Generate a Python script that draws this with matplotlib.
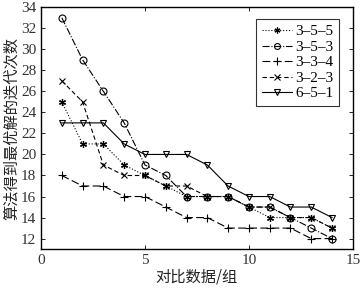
import matplotlib
matplotlib.use("Agg")
import matplotlib.pyplot as plt

plt.rcParams['font.family'] = ['Liberation Serif', 'Noto Sans CJK SC', 'DejaVu Sans']
plt.rcParams['mathtext.fontset'] = 'stix'

x = list(range(1, 15))
s355 = [25, 21, 21, 19, 18, 17, 16, 16, 16, 15, 14, 14, 14, 13]
s353 = [33, 29, 26, 23, 19, 18, 16, 16, 16, 15, 15, 14, 13, 12]
s334 = [18, 17, 17, 16, 16, 15, 14, 14, 13, 13, 13, 13, 12, 12]
s323 = [27, 25, 19, 18, 18, 17, 17, 16, 16, 15, 15, 14, 14, 13]
s651 = [23, 23, 23, 21, 20, 20, 20, 19, 17, 16, 16, 15, 15, 14]
labels = ['3–5–5', '3–5–3', '3–3–4', '3–2–3', '6–5–1']
xticks = [0, 5, 10, 15]
yticks = [12, 14, 16, 18, 20, 22, 24, 26, 28, 30, 32, 34]

fig = plt.figure(figsize=(3.63, 2.88), dpi=100)
ax = fig.add_axes([0.113, 0.135, 0.859, 0.84])

lw = 0.8
ax.plot(x, s355, linestyle=':', color='black', lw=lw, marker=(6, 2, 0), ms=5, mew=0.9, label=labels[0])
ax.plot(x, s353, linestyle='-.', color='black', lw=lw, marker='o', ms=5, mfc='none', mew=0.8, label=labels[1])
ax.plot(x, s334, linestyle=(0, (7, 3)), color='black', lw=lw, marker='+', ms=6, mew=0.8, label=labels[2])
ax.plot(x, s323, linestyle=(0, (4, 2.5)), color='black', lw=lw, marker='x', ms=4.5, mew=0.8, label=labels[3])
ax.plot(x, s651, linestyle='-', color='black', lw=lw, marker='v', ms=5, mfc='none', mew=0.8, label=labels[4])

ax.set_xlim(0, 15)
ax.set_ylim(11, 34)
ax.set_xticks(xticks)
ax.set_yticks(yticks)
ax.tick_params(direction='in', top=True, right=True, labelsize=11, length=3, width=0.6,
               colors='black', labelcolor='#333333')
for sp in ax.spines.values():
    sp.set_linewidth(1.0)

ax.set_xlabel('对比数据/组', fontsize=11, family=['Noto Sans CJK SC'], labelpad=1, color='#222222')
ax.set_ylabel('算法得到最优解的迭代次数', fontsize=11, family=['Noto Sans CJK SC'], labelpad=1, color='#222222')

leg = ax.legend(loc='upper right', bbox_to_anchor=(0.955, 0.95), fontsize=11, frameon=True, fancybox=False,
                edgecolor='black', labelspacing=0.12, handlelength=2.0, handletextpad=0.2,
                borderpad=0.35, borderaxespad=0.0, markerscale=0.85)
leg.get_frame().set_linewidth(0.8)

fig.savefig('out.png', dpi=100)
